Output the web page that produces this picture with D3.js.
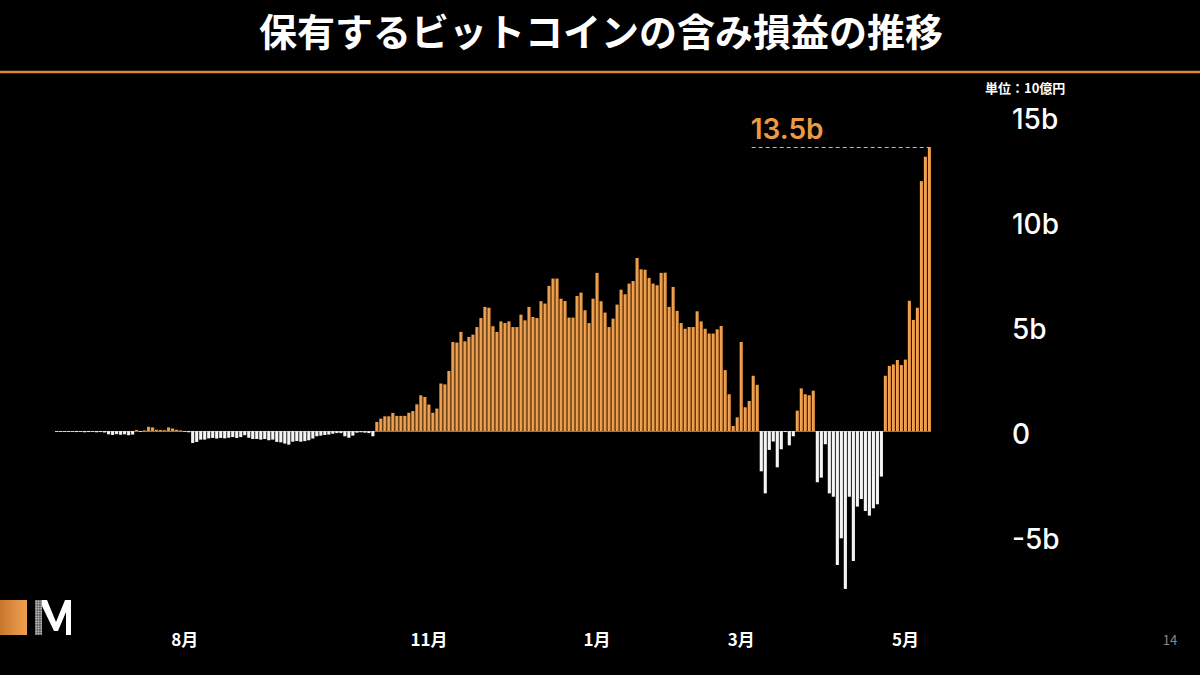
<!DOCTYPE html>
<html lang="ja">
<head>
<meta charset="utf-8">
<script src="https://cdn.jsdelivr.net/npm/d3@7"></script>
<style>
  html, body { margin: 0; padding: 0; background: #000; }
  #chart { width: 1200px; height: 675px; }
  text { font-family: "Noto Sans CJK JP", "Noto Sans", sans-serif; }
</style>
</head>
<body>
<div id="chart"></div>
<script>
// unrealized profit/loss per trading day, in billions of yen
const pnlValues = [
  -0.02, -0.03, -0.02, -0.04, -0.03, -0.05, -0.04, -0.06, -0.05, -0.04, -0.06, -0.05, -0.07,
  -0.16, -0.19, -0.15, -0.18, -0.16, -0.2, -0.17,
  0.05, -0.02, 0.03, 0.2, 0.17, 0.06, 0.05, 0.04, 0.17, 0.12, 0.06, 0.03, -0.03, -0.06,
  -0.57, -0.52, -0.41, -0.41, -0.35, -0.33, -0.36, -0.33, -0.35, -0.32, -0.29, -0.33, -0.29, -0.2,
  -0.32, -0.38, -0.38, -0.41, -0.38, -0.44, -0.41, -0.52, -0.54, -0.6, -0.65, -0.51, -0.48, -0.51,
  -0.48, -0.44, -0.36, -0.25, -0.22, -0.19, -0.17, -0.13, -0.1, -0.1, -0.25, -0.32, -0.22, -0.08,
  -0.06, -0.08, -0.1, -0.25,
  0.43, 0.59, 0.7, 0.7, 0.86, 0.72, 0.72, 0.72, 0.87, 0.95, 1.27, 1.7, 1.62, 1.26, 0.87, 1.07,
  2.26, 2.22, 2.86, 4.24, 4.21, 4.72, 4.27, 4.48, 4.59, 4.95, 5.38, 5.91, 5.87, 4.99, 4.72, 5.22,
  5.14, 5.22, 4.95, 4.95, 5.54, 5.27, 5.91, 5.43, 5.38, 6.18, 6.07, 6.91, 7.26, 7.26, 6.3, 6.19,
  5.4, 5.4, 6.43, 6.59, 5.75, 5.14, 6.3, 7.53, 6.18, 5.64, 4.95, 5.35, 6.02, 6.73, 6.51, 7.02,
  7.14, 8.24, 7.7, 7.68, 7.29, 7.02, 6.94, 7.53, 7.54, 5.91, 6.86, 5.72, 5.14, 4.87, 4.95, 4.95,
  5.7, 5.22, 4.87, 4.64, 4.64, 4.84,
  5.0, 2.9, 1.75, 0.24, 0.65, 4.24, 1.13, 1.43, 2.63, 2.2,
  -1.92, -2.97, -0.9, -0.5, -1.73, -0.87, -0.05, -0.68, -0.25,
  0.97, 2.03, 1.75, 1.7, 1.92,
  -2.44, -2.22, -0.63, -2.97, -3.13, -6.38, -5.11, -7.52, -3.13, -6.19, -3.6, -3.24, -3.81,
  -4.03, -3.68, -3.49, -2.17,
  2.63, 3.1, 3.17, 3.38, 3.14, 3.4, 6.2, 5.29, 5.87, 11.9, 13.06, 13.5
];
const monthLabels = ["8月", "11月", "1月", "3月", "5月"];
const monthBarIndex = [32, 93, 135, 171, 212];
const yTickValues = [-5, 0, 5, 10, 15];
const peakValue = 13.5;
const peakLabel = "13.5b";
const peakLineFrom = 174;

class ProfitChart {
  constructor(container) {
    this.container = d3.select(container);
    this.width = 1200;
    this.height = 675;
    this.orange = "#ec9a44";
  }

  draw() {
    const svg = this.container
      .append("svg")
      .attr("width", this.width)
      .attr("height", this.height)
      .style("background", "#000");

    const defs = svg.append("defs");
    const grad = defs.append("linearGradient").attr("id", "barOrange");
    grad.append("stop").attr("offset", "0%").attr("stop-color", "#f7b062");
    grad.append("stop").attr("offset", "100%").attr("stop-color", "#df8a36");
    const logoGrad = defs.append("linearGradient").attr("id", "logoOrange");
    logoGrad.append("stop").attr("offset", "0%").attr("stop-color", "#c8762c");
    logoGrad.append("stop").attr("offset", "100%").attr("stop-color", "#f0a250");
    const dots = defs
      .append("pattern")
      .attr("id", "dots")
      .attr("width", 2.5)
      .attr("height", 2.5)
      .attr("patternUnits", "userSpaceOnUse");
    dots.append("rect").attr("width", 2.5).attr("height", 2.5).attr("fill", "#555");
    dots.append("circle").attr("cx", 1.2).attr("cy", 1.2).attr("r", 0.8).attr("fill", "#eee");

    // title + rule
    svg
      .append("text")
      .attr("x", 601)
      .attr("y", 46)
      .attr("text-anchor", "middle")
      .attr("fill", "#fff")
      .style("font-size", "38px")
      .style("font-weight", 700)
      .text("保有するビットコインの含み損益の推移");
    svg
      .append("line")
      .attr("x1", 0)
      .attr("x2", this.width)
      .attr("y1", 72)
      .attr("y2", 72)
      .attr("stroke", "#d98838")
      .attr("stroke-width", 2.5);

    const x = d3
      .scaleBand()
      .domain(d3.range(pnlValues.length))
      .range([55, 931])
      .paddingInner(0.22)
      .paddingOuter(0);
    const y = d3.scaleLinear().domain([-5, 15]).range([536, 116]);

    svg
      .append("g")
      .selectAll("rect")
      .data(pnlValues)
      .join("rect")
      .attr("x", (d, i) => x(i))
      .attr("width", x.bandwidth())
      .attr("y", (d) => y(Math.max(0, d)))
      .attr("height", (d) => Math.max(0.8, Math.abs(y(d) - y(0))))
      .attr("fill", (d) => (d >= 0 ? "url(#barOrange)" : "#f4f4f4"));

    svg
      .append("line")
      .attr("x1", x(0))
      .attr("x2", x(pnlValues.length - 1) + x.bandwidth())
      .attr("y1", y(0) + 0.5)
      .attr("y2", y(0) + 0.5)
      .attr("stroke", "#ddd")
      .attr("stroke-width", 0.8)
      .attr("opacity", 0.7);

    // peak annotation
    const last = pnlValues.length - 1;
    svg
      .append("line")
      .attr("x1", x(peakLineFrom))
      .attr("x2", x(last) + x.bandwidth())
      .attr("y1", y(peakValue))
      .attr("y2", y(peakValue))
      .attr("stroke", "#bbb")
      .attr("stroke-width", 1)
      .attr("stroke-dasharray", "4,3");
    svg
      .append("text")
      .attr("x", x(peakLineFrom) - 1)
      .attr("y", y(peakValue) - 9)
      .attr("fill", this.orange)
      .style("font-family", "Inter, Roboto, sans-serif")
      .style("font-size", "28px")
      .style("font-weight", 600)
      .text(peakLabel);

    // y axis on the right
    const yAxis = d3
      .axisRight(y)
      .tickValues(yTickValues)
      .tickSize(0)
      .tickPadding(0)
      .tickFormat((d) => (d === 0 ? "0" : d + "b"));
    const yg = svg.append("g").attr("transform", "translate(1012,4)").call(yAxis);
    yg.select(".domain").remove();
    yg.selectAll("text")
      .attr("fill", "#fff")
      .style("font-family", "Inter, Roboto, sans-serif")
      .style("font-size", "28px")
      .style("font-weight", 500);

    svg
      .append("text")
      .attr("x", 985)
      .attr("y", 93)
      .attr("fill", "#fff")
      .style("font-size", "13px")
      .style("font-weight", 700)
      .text("単位：10億円");

    // month labels
    const xAxis = d3
      .axisBottom(x)
      .tickValues(monthBarIndex)
      .tickSize(0)
      .tickFormat((d, i) => monthLabels[i]);
    const xg = svg.append("g").attr("transform", "translate(0,631)").call(xAxis);
    xg.select(".domain").remove();
    xg.selectAll("text")
      .attr("fill", "#fff")
      .style("font-size", "17px")
      .style("font-weight", 700);

    // logo + page number
    svg
      .append("rect")
      .attr("x", 0)
      .attr("y", 600)
      .attr("width", 27)
      .attr("height", 35)
      .attr("fill", "url(#logoOrange)");
    svg
      .append("rect")
      .attr("x", 35)
      .attr("y", 600)
      .attr("width", 7)
      .attr("height", 35)
      .attr("fill", "url(#dots)");
    svg
      .append("path")
      .attr("d", "M42,600 L47,600 L56,622 L65,600 L71,600 L71,635 L66,635 L66,612 L58,631 L54,631 L42,606 Z")
      .attr("fill", "#fff");
    svg
      .append("text")
      .attr("x", 1170)
      .attr("y", 645)
      .attr("text-anchor", "middle")
      .attr("fill", "#888")
      .style("font-size", "13px")
      .text("14");
  }
}

const chart = new ProfitChart("#chart");
chart.draw();
</script>
</body>
</html>
